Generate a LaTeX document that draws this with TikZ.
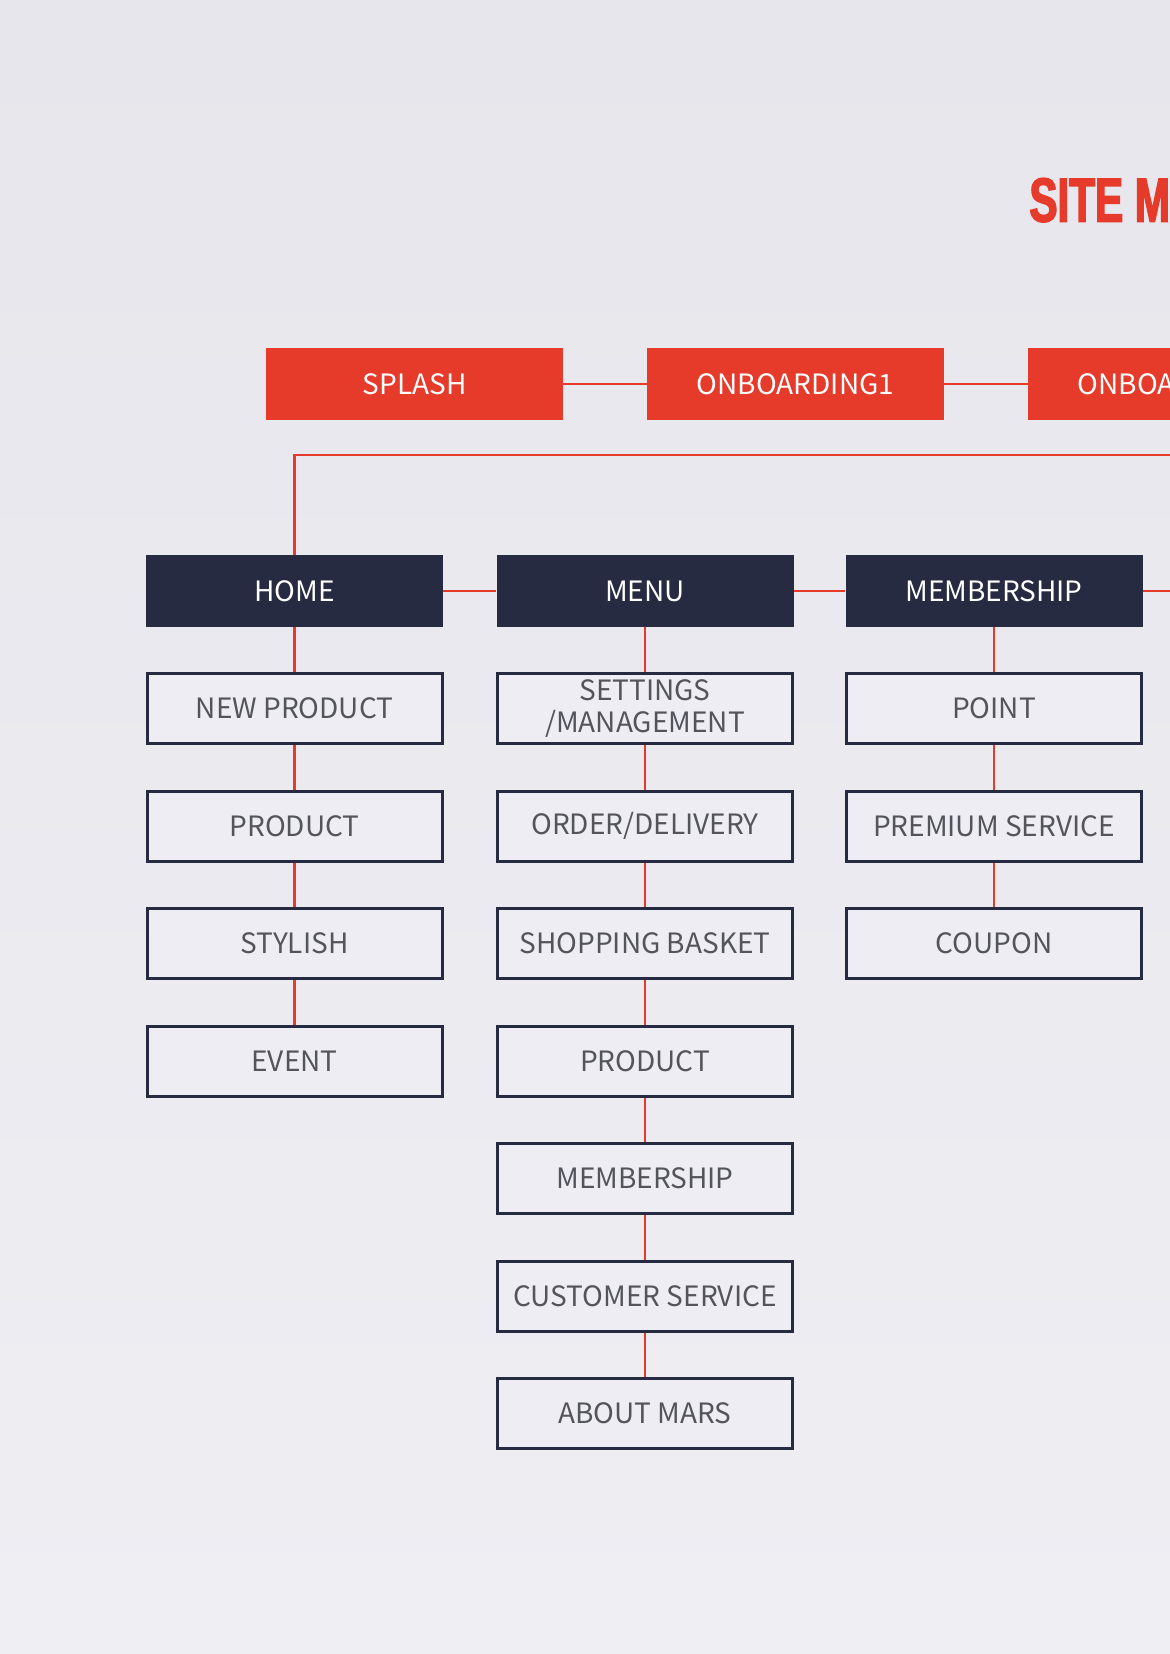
\documentclass[tikz,border=0pt]{standalone}
\usepackage{fontspec}
\usepackage{tikz}
\usetikzlibrary{positioning}
\newfontfamily\krfont{Noto Sans CJK KR}
\newfontfamily\titlefont[FakeStretch=0.68, BoldFeatures={FakeBold=2.5}]{Liberation Sans}
\definecolor{siteRed}{HTML}{E63A2A}
\definecolor{siteNavy}{HTML}{262B42}
\definecolor{boxFill}{HTML}{EEEDF3}
\definecolor{siteGray}{HTML}{54545C}
\definecolor{bgTop}{HTML}{E7E6EC}
\definecolor{bgBottom}{HTML}{EFEEF3}

\begin{document}
\begin{tikzpicture}[x=0.5pt, y=-0.5pt,
    font=\krfont\fontsize{14}{16.4}\selectfont,
    redbox/.style={fill=siteRed, text=white, inner sep=0pt,
      minimum width=148.5pt, minimum height=36pt},
    navybox/.style={fill=siteNavy, text=white, inner sep=0pt,
      minimum width=148.5pt, minimum height=36pt},
    pagebox/.style={draw=siteNavy, line width=1.5pt, fill=boxFill,
      text=siteGray, inner sep=0pt, align=center,
      minimum width=147.5pt, minimum height=35pt},
    link/.style={siteRed, line width=1.4pt}]
  \useasboundingbox (0,0) rectangle (1170,1654);
  \clip (0,0) rectangle (1170,1654);
  \shade[top color=bgTop, bottom color=bgBottom] (0,0) rectangle (1170,1654);
  % --- title ---
  \node[anchor=base west, inner sep=0pt, text=siteRed,
    font=\titlefont\bfseries\fontsize{31}{31}\selectfont] (title) at (1029,221.5) {SITE MAP};
  % --- intro screens ---
  \node[redbox] (splash) at (414.5,384) {SPLASH};
  \node[redbox] (onb1) at (795.5,384) {ONBOARDING1};
  \node[redbox] (onb2) at (1176.5,384) {ONBOARDING2};
  \draw[link] (splash) -- (onb1) -- (onb2);
  % --- main sections ---
  \node[navybox] (home) at (294.5,591) {HOME};
  \node[navybox] (menu) at (645,591) {MENU};
  \node[navybox] (member) at (994,591) {MEMBERSHIP};
  \coordinate (busend) at (1170,455);
  \coordinate (memberend) at (1170,591);
  \draw[link] (home) |- (busend);
  \draw[link] (home) -- (menu) -- (member) -- (memberend);
  % --- home pages ---
  \foreach \n/\y/\t in {h1/708.5/NEW PRODUCT, h2/826/PRODUCT,
      h3/943.5/STYLISH, h4/1061/EVENT}
    {\node[pagebox] (\n) at (294.5,\y) {\t};}
  \draw[link] (home) -- (h1) -- (h2) -- (h3) -- (h4);
  % --- menu pages ---
  \foreach \n/\y/\t in {m1/708.5/{SETTINGS\\/MANAGEMENT}, m2/826/{ORDER/DELIVERY},
      m3/943.5/SHOPPING BASKET, m4/1061/PRODUCT, m5/1178.5/MEMBERSHIP,
      m6/1296/CUSTOMER SERVICE, m7/1413.5/ABOUT MARS}
    {\node[pagebox] (\n) at (645,\y) {\t};}
  \draw[link] (menu) -- (m1) -- (m2) -- (m3) -- (m4) -- (m5) -- (m6) -- (m7);
  % --- membership pages ---
  \foreach \n/\y/\t in {b1/708.5/POINT, b2/826/PREMIUM SERVICE, b3/943.5/COUPON}
    {\node[pagebox] (\n) at (994,\y) {\t};}
  \draw[link] (member) -- (b1) -- (b2) -- (b3);
\end{tikzpicture}
\end{document}
